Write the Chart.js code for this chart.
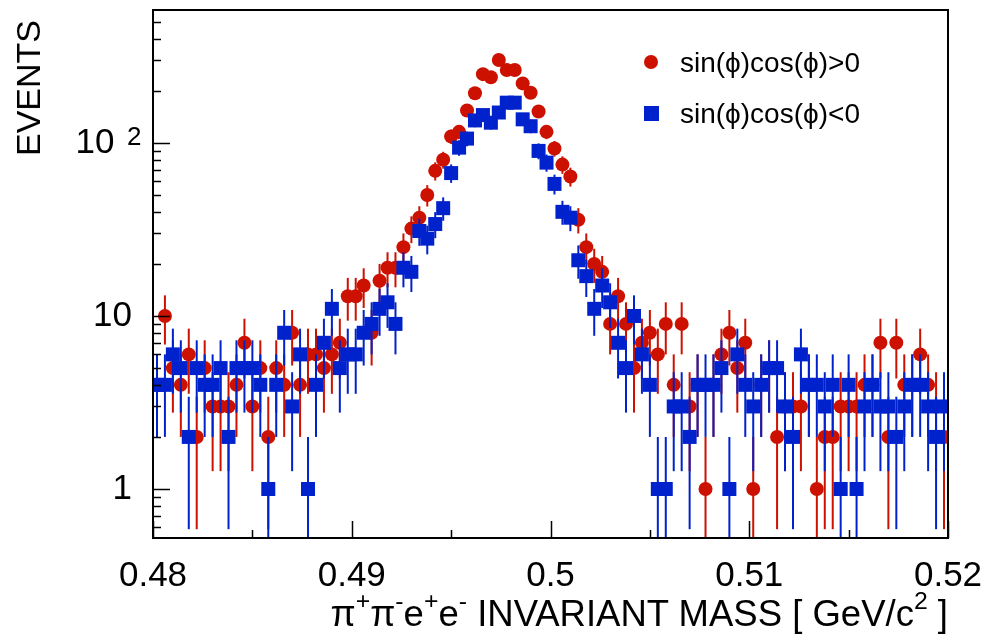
<!DOCTYPE html>
<html>
<head>
<meta charset="utf-8">
<script src="https://cdn.jsdelivr.net/npm/chart.js@4/dist/chart.umd.min.js"></script>
<style>
  html, body { margin: 0; padding: 0; background: #fff; }
  #wrap { position: relative; width: 986px; height: 637px; font-family: "Liberation Sans", Arial, sans-serif; color: #000; }
  #wrap canvas { position: absolute; left: 0; top: 0; }
  .txt { position: absolute; white-space: nowrap; line-height: 1; }
  .txt sup { font-size: 68%; vertical-align: 0.7em; line-height: 0; }
  #ytitle { font-size: 34px; left: 28px; top: 88px; transform: translate(-50%, -50%) rotate(-90deg); }
  #xtitle { font-size: 36.5px; right: 38px; top: 596px; }
  .leg { position: absolute; font-size: 28px; left: 680px; white-space: nowrap; line-height: 1; }
  .mk { position: absolute; }
</style>
</head>
<body>
<div id="wrap">
  <canvas id="massChart" width="986" height="637"></canvas>
  <div class="txt" id="ytitle">EVENTS</div>
  <div class="txt" id="xtitle">&pi;<sup>+</sup>&pi;<sup>-</sup>e<sup>+</sup>e<sup>-</sup> INVARIANT MASS [ GeV/c<sup>2</sup> ]</div>
  <div class="mk" style="left:644px;top:55px;width:14px;height:14px;border-radius:50%;background:#cc1100"></div>
  <div class="leg" style="top:49px">sin(&#x3D5;)cos(&#x3D5;)&gt;0</div>
  <div class="mk" style="left:644px;top:106px;width:15px;height:15px;background:#0022cc"></div>
  <div class="leg" style="top:100px">sin(&#x3D5;)cos(&#x3D5;)&lt;0</div>
</div>
<script>
// --- histogram binning: 100 bins of 0.0004 GeV between 0.48 and 0.52 ---
const BIN_LOW = 0.48;
const BIN_WIDTH = 0.0004;

// events per bin, sin(phi)cos(phi) > 0
const redCounts = [
  4, 10, 5, 4, 6, 2, 5, 3, 3, 3,
  4, 7, 3, 5, 2, 5, 4, 8, 4, 6,
  6, 5, 6, 7, 13, 13, 15, 8, 16, 19,
  19, 25, 32, 37, 50, 69, 80, 109, 116, 154,
  194, 250, 240, 302, 264, 264, 221, 195, 152, 116,
  93, 75, 64, 36, 25, 20, 18, 9, 13, 9,
  5, 7, 8, 6, 9, 4, 9, 3, 4, 1,
  4, 6, 8, 5, 7, 1, 4, 5, 2, 3,
  3, 3, 4, 1, 2, 2, 3, 3, 3, 4,
  4, 7, 2, 7, 4, 4, 6, 4, 3, 2
];

// events per bin, sin(phi)cos(phi) < 0
const blueCounts = [
  4, 4, 6, 5, 2, 5, 4, 4, 5, 2,
  5, 5, 5, 4, 1, 4, 8, 3, 6, 1,
  4, 7, 11, 5, 6, 6, 8, 9, 11, 12,
  9, 19, 18, 31, 28, 34, 42, 67, 94, 106,
  135, 145, 131, 150, 171, 171, 137, 125, 90, 77,
  58, 40, 37, 21, 17, 11, 15, 12, 7, 5,
  10, 6, 4, 1, 1, 3, 3, 2, 4, 4,
  4, 5, 1, 6, 4, 3, 4, 5, 5, 3,
  2, 6, 4, 4, 3, 4, 1, 4, 1, 3,
  4, 3, 3, 2, 3, 4, 4, 3, 2, 3
];

const xTicks = [0.48, 0.49, 0.5, 0.51, 0.52];
const xTickLabels = ['0.48', '0.49', '0.5', '0.51', '0.52'];
const xMinorTicks = [0.485, 0.495, 0.505, 0.515];
const yTicks = [1, 10, 100];
const yTickLabels = ['1', '10', '10\u2002'];   // en space leaves room for the exponent
const yTickExponents = ['', '', '2'];
const yMinorTicks = [0.6, 0.7, 0.8, 0.9, 2, 3, 4, 5, 6, 7, 8, 9, 20, 30, 40, 50, 60, 70, 80, 90, 200, 300, 400, 500];

const RED = '#cc1100';
const BLUE = '#0022cc';
const FONT = '"Liberation Sans", Arial, sans-serif';

const binCenters = redCounts.map((_, i) => +(BIN_LOW + BIN_WIDTH * (i + 0.5)).toFixed(5));

function markers(counts) {
  return counts.map((n, i) => ({ x: binCenters[i], y: n })).filter(p => p.y > 0);
}
// sqrt(N) error bars drawn as floating bars (log axis can't take 0, so clamp low end below the frame)
function errorBars(counts) {
  return counts.map((n, i) => {
    const lo = n - Math.sqrt(n);
    return { x: binCenters[i], y: [lo > 0 ? lo : 0.01, n + Math.sqrt(n)] };
  });
}

// frame, inward ticks and tick-label exponents, ROOT style
const frameTicks = {
  id: 'frameTicks',
  afterDatasetsDraw(chart) {
    const { ctx, chartArea: a, scales: { x, y } } = chart;
    ctx.save();
    ctx.strokeStyle = '#000';
    ctx.lineWidth = 2;
    ctx.strokeRect(a.left, a.top, a.right - a.left, a.bottom - a.top);
    ctx.lineWidth = 1.5;
    ctx.beginPath();
    yTicks.forEach(v => { const p = Math.round(y.getPixelForValue(v)) + 0.5; ctx.moveTo(a.left, p); ctx.lineTo(a.left + 17, p); });
    yMinorTicks.forEach(v => { const p = Math.round(y.getPixelForValue(v)) + 0.5; ctx.moveTo(a.left, p); ctx.lineTo(a.left + 8, p); });
    xTicks.forEach(v => { const p = Math.round(x.getPixelForValue(v)) + 0.5; ctx.moveTo(p, a.bottom); ctx.lineTo(p, a.bottom - 17); });
    xMinorTicks.forEach(v => { const p = Math.round(x.getPixelForValue(v)) + 0.5; ctx.moveTo(p, a.bottom); ctx.lineTo(p, a.bottom - 8); });
    ctx.stroke();

    ctx.fillStyle = '#000';
    ctx.font = '26px ' + FONT;
    ctx.textAlign = 'left';
    ctx.textBaseline = 'alphabetic';
    yTicks.forEach((v, i) => {
      if (yTickExponents[i]) ctx.fillText(yTickExponents[i], a.left - 26, y.getPixelForValue(v) + 2);
    });
    ctx.restore();
  }
};

function noPad(s) {
  s.paddingTop = 0; s.paddingBottom = 0; s.paddingLeft = 0; s.paddingRight = 0;
}

const ctx = document.getElementById('massChart').getContext('2d');
const massChart = new Chart(ctx, {
  type: 'scatter',
  data: {
    datasets: [{
      type: 'bar', label: 'err+', data: errorBars(redCounts),
      backgroundColor: RED, grouped: false, maxBarThickness: 2, order: 4
    }, {
      label: 'sin(\u03D5)cos(\u03D5)>0', data: markers(redCounts),
      pointStyle: 'circle', pointRadius: 7, backgroundColor: RED, borderWidth: 0, order: 3
    }, {
      type: 'bar', label: 'err-', data: errorBars(blueCounts),
      backgroundColor: BLUE, grouped: false, maxBarThickness: 2, order: 2
    }, {
      label: 'sin(\u03D5)cos(\u03D5)<0', data: markers(blueCounts),
      pointStyle: 'rect', pointRadius: 9.9, backgroundColor: BLUE, borderWidth: 0, order: 1
    }]
  },
  options: {
    responsive: false,
    animation: false,
    events: [],
    layout: { padding: { top: 10, right: 38, left: 0, bottom: 0 } },
    plugins: { legend: { display: false }, tooltip: { enabled: false } },
    scales: {
      x: {
        type: 'linear', min: 0.48, max: 0.52, offset: false,
        grid: { display: false }, border: { display: false },
        afterBuildTicks: s => { s.ticks = xTicks.map(v => ({ value: v })); },
        afterFit: s => { s.height = 99; noPad(s); },
        ticks: {
          padding: 9, maxRotation: 0, autoSkip: false, color: '#000',
          font: { family: FONT, size: 35 },
          callback: (v, i) => xTickLabels[i]
        }
      },
      y: {
        type: 'logarithmic', min: 0.521, max: 587,
        grid: { display: false }, border: { display: false },
        afterBuildTicks: s => { s.ticks = yTicks.map(v => ({ value: v, major: true })); },
        afterFit: s => { s.width = 153; noPad(s); },
        ticks: {
          padding: 13, autoSkip: false, color: '#000',
          font: { family: FONT, size: 35 },
          callback: (v, i) => yTickLabels[i]
        }
      }
    }
  },
  plugins: [frameTicks]
});
</script>
</body>
</html>
